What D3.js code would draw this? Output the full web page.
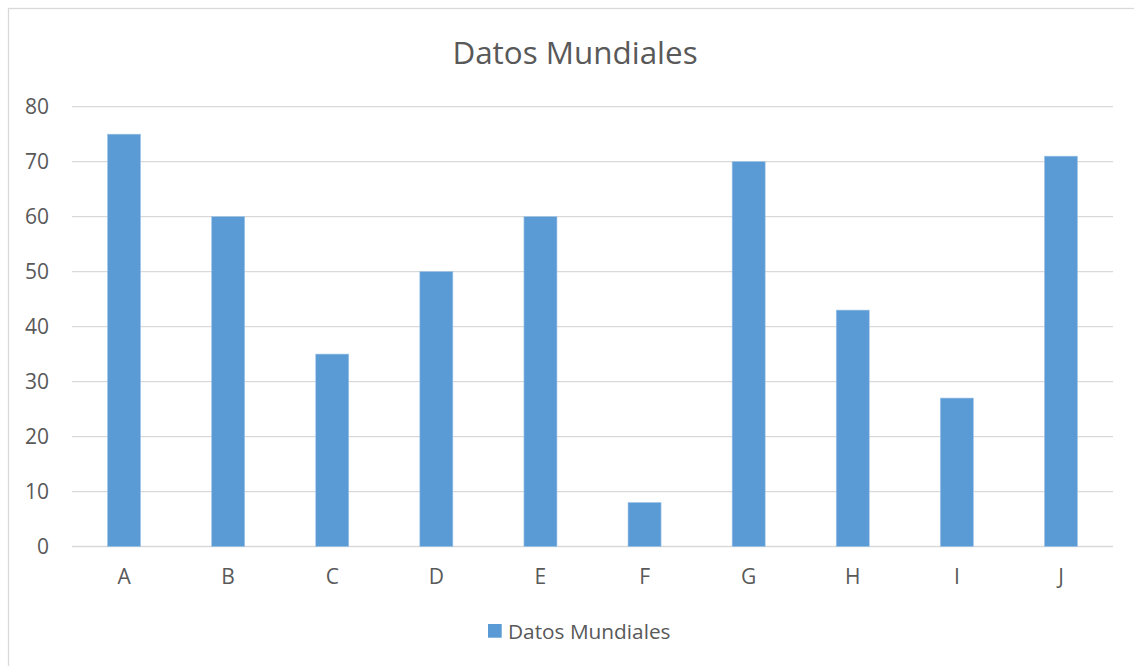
<!DOCTYPE html>
<html>
<head>
<meta charset="utf-8">
<script src="https://cdn.jsdelivr.net/npm/d3@7"></script>
<style>
  html, body { margin: 0; padding: 0; background: #fff; }
  svg { display: block; }
  text { font-family: "Open Sans", "Noto Sans", sans-serif; fill: #595959; }
</style>
</head>
<body>
<svg id="chart" width="1134" height="666"></svg>
<script>
const categories = ["A", "B", "C", "D", "E", "F", "G", "H", "I", "J"];
const values = [75, 60, 35, 50, 60, 8, 70, 43, 27, 71];
const yTicks = [0, 10, 20, 30, 40, 50, 60, 70, 80];
const seriesName = "Datos Mundiales";
const chartTitle = "Datos Mundiales";

(function () {
const svg = d3.select("#chart");
const pL = 72, pR = 1113, pT = 106.7, pB = 546.5;

// outer chart border
svg.append("rect")
  .attr("x", 8.5).attr("y", 8.5)
  .attr("width", 1150).attr("height", 700)
  .attr("fill", "none").attr("stroke", "#D9D9D9").attr("stroke-width", 1.3);

const x = d3.scaleBand().domain(categories).range([pL, pR])
  .paddingInner(0.683).paddingOuter(0.3415);
const y = d3.scaleLinear().domain([0, 80]).range([pB, pT]);

// gridlines
svg.append("g").selectAll("line").data(yTicks).join("line")
  .attr("x1", pL).attr("x2", pR)
  .attr("y1", d => y(d)).attr("y2", d => y(d))
  .attr("stroke", "#D9D9D9").attr("stroke-width", 1.3);

// y axis labels via d3 axis
const yAxis = svg.append("g").attr("transform", `translate(${pL},0)`)
  .call(d3.axisLeft(y).tickValues(yTicks).tickSize(0).tickPadding(23));
yAxis.select(".domain").remove();
yAxis.selectAll("text").attr("font-size", 21).attr("fill", "#595959")
  .attr("font-family", "Open Sans");

// bars
svg.append("g").selectAll("rect").data(values).join("rect")
  .attr("x", (d, i) => x(categories[i]))
  .attr("width", x.bandwidth())
  .attr("y", d => y(d))
  .attr("height", d => y(0) - y(d))
  .attr("fill", "#5B9BD5")
  .attr("stroke", "#9DC3E6").attr("stroke-width", 0.6);

// x axis labels
const xAxis = svg.append("g").attr("transform", `translate(0,${pB})`)
  .call(d3.axisBottom(x).tickSize(0).tickPadding(23));
xAxis.select(".domain").remove();
xAxis.selectAll("text").attr("font-size", 21).attr("fill", "#595959")
  .attr("font-family", "Open Sans");

// title
svg.append("text").attr("x", 575).attr("y", 64.3)
  .attr("text-anchor", "middle").attr("font-size", 31.4)
  .text(chartTitle);

// legend
svg.append("rect").attr("x", 488).attr("y", 624)
  .attr("width", 13.7).attr("height", 13.7).attr("fill", "#5B9BD5");
svg.append("text").attr("x", 508).attr("y", 639)
  .attr("font-size", 20.8).text(seriesName);
})();
</script>
</body>
</html>
